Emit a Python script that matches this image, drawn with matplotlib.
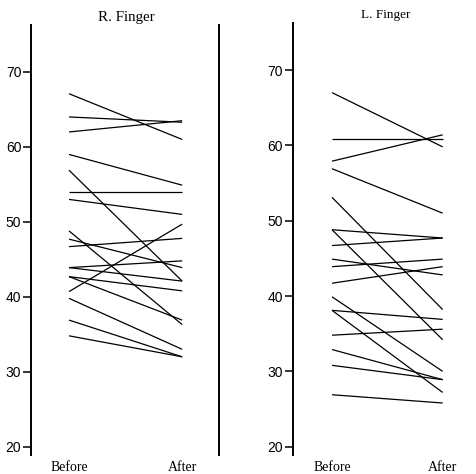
import matplotlib
matplotlib.use("Agg")
import matplotlib.pyplot as plt

# R. Finger (before -> after)
r_before = [67.1, 64.0, 62.0, 59.0, 56.9, 54.0, 53.0, 48.8, 47.7, 46.7,
            43.9, 43.9, 42.7, 42.7, 40.7, 39.8, 36.9, 34.8]
r_after = [61.0, 63.3, 63.5, 54.9, 42.1, 54.0, 51.0, 36.3, 43.9, 47.8,
           44.8, 42.1, 40.8, 36.9, 49.7, 33.0, 32.0, 32.0]

# L. Finger (before -> after)
l_before = [67.0, 60.9, 57.9, 56.9, 53.1, 48.8, 48.8, 46.7, 44.9, 43.9,
            41.7, 39.9, 38.1, 38.1, 34.8, 32.9, 30.8, 26.9]
l_after = [59.8, 60.9, 61.4, 51.0, 38.2, 47.7, 34.2, 47.7, 42.8, 44.9,
           43.9, 30.0, 36.9, 27.2, 35.6, 28.9, 28.9, 25.8]

titles = ["R. Finger", "L. Finger"]
xlabels = ["Before", "After"]
yticks = [20, 30, 40, 50, 60, 70]

W, H = 477, 474
fig = plt.figure(figsize=(W / 100, H / 100), dpi=100)

serif = ["Liberation Serif", "DejaVu Serif"]
narrow = ["Liberation Sans Narrow", "Liberation Sans", "DejaVu Sans"]


def make_axes(x0, x1, y_top, y_bot):
    return fig.add_axes([x0 / W, 1 - y_bot / H, (x1 - x0) / W, (y_bot - y_top) / H])


axL = make_axes(31, 218.5, 25, 455)
axR = make_axes(292.7, 477, 23.3, 455)

axL.set_xlim(-0.336, 1.321)
axR.set_xlim(-0.355, 1.31)
axL.set_ylim(18.9, 76.27)
axR.set_ylim(18.9, 76.2)

for ax, b, a in [(axL, r_before, r_after), (axR, l_before, l_after)]:
    for vb, va in zip(b, a):
        ax.plot([0, 1], [vb, va], color="black", lw=0.9, solid_capstyle="butt")
    ax.set_yticks(yticks)
    ax.set_yticklabels([str(t) for t in yticks], family=narrow, fontsize=10)
    ax.set_xticks([0, 1])
    ax.set_xticklabels(xlabels, family=serif, fontsize=10)
    ax.tick_params(axis="x", length=0, pad=4)
    ax.tick_params(axis="y", direction="out", length=5.5, width=1.1, pad=1.5)
    ax.spines["top"].set_visible(False)
    ax.spines["bottom"].set_visible(False)
    ax.spines["left"].set_linewidth(1.4)
    ax.patch.set_alpha(0)

axL.spines["right"].set_linewidth(1.4)
axR.spines["right"].set_visible(False)

fig.text(126 / W, 1 - 18 / H, titles[0], family=serif, fontsize=10.8,
         ha="center", va="center")
fig.text(386 / W, 1 - 15 / H, titles[1], family=serif, fontsize=9.5,
         ha="center", va="center")

fig.savefig("out.png", dpi=100, facecolor="white")
